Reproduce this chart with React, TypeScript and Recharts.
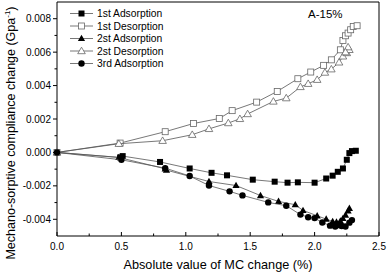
import { ReferenceLine, Scatter, ScatterChart, XAxis, YAxis } from "recharts";

const FONT = "'Liberation Sans', Arial, sans-serif";

const ads1X = [0, 0.49, 0.51, 0.8, 1.03, 1.2, 1.32, 1.52, 1.69, 1.79, 1.87, 2.0, 2.09, 2.14, 2.18, 2.22, 2.25, 2.27, 2.29, 2.32];
const ads1Y = [0, -0.0003, -0.00022, -0.00057, -0.00096, -0.00122, -0.00137, -0.00163, -0.00175, -0.00181, -0.00179, -0.00181, -0.00156, -0.00139, -0.00116, -0.00096, -0.00044, -0.00004, 0.00008, 0.0001];

const des1X = [0, 0.49, 0.84, 1.06, 1.26, 1.36, 1.55, 1.71, 1.87, 1.97, 2.07, 2.13, 2.2, 2.22, 2.24, 2.26, 2.28, 2.3, 2.33];
const des1Y = [0, 0.00056, 0.00124, 0.00173, 0.00203, 0.0025, 0.00301, 0.00365, 0.00441, 0.00481, 0.00521, 0.00554, 0.00614, 0.0067, 0.00698, 0.00714, 0.00734, 0.00754, 0.00758];

const ads2X = [0, 0.48, 0.84, 0.85, 1.18, 1.39, 1.58, 1.72, 1.85, 1.91, 2.02, 2.09, 2.14, 2.17, 2.2, 2.22, 2.24, 2.26, 2.27];
const ads2Y = [0, -0.0003, -0.00098, -0.00106, -0.00174, -0.00198, -0.00258, -0.00293, -0.00313, -0.00347, -0.00379, -0.00399, -0.00413, -0.00417, -0.0041, -0.00395, -0.00375, -0.0035, -0.00335];

const des2X = [0, 0.48, 0.82, 1.05, 1.18, 1.33, 1.42, 1.48, 1.68, 1.78, 1.89, 1.95, 2.02, 2.08, 2.13, 2.19, 2.22, 2.25, 2.27, 2.26, 2.24];
const des2Y = [0, 0.00052, 0.0007, 0.00106, 0.00141, 0.00176, 0.00201, 0.0023, 0.00305, 0.00325, 0.00392, 0.00411, 0.00435, 0.00478, 0.00498, 0.00539, 0.00575, 0.00595, 0.00614, 0.0063, 0.006];

const ads3X = [0, 0.5, 0.84, 1.03, 1.18, 1.34, 1.44, 1.64, 1.78, 1.89, 1.95, 2.0, 2.06, 2.12, 2.16, 2.19, 2.21, 2.24, 2.27, 2.29];
const ads3Y = [0, -0.00044, -0.00094, -0.00141, -0.00198, -0.00233, -0.00257, -0.00299, -0.00319, -0.00372, -0.00388, -0.00393, -0.00419, -0.00438, -0.00443, -0.00435, -0.0044, -0.00443, -0.0042, -0.00405];

const xTicks = [0, 0.25, 0.5, 0.75, 1, 1.25, 1.5, 1.75, 2, 2.25, 2.5];
const yTicks = [-0.004, -0.003, -0.002, -0.001, 0, 0.001, 0.002, 0.003, 0.004, 0.005, 0.006, 0.007, 0.008];

const seriesNames = ["1st Adsorption", "1st Desorption", "2st Adsorption", "2st Desorption", "3rd Adsorption"];

const toPoints = (xs: number[], ys: number[]) => xs.map((x, i) => ({ x, y: ys[i] }));

const LINE = "#555";
const OPEN = "#666";

function Marker({ kind, cx, cy }: { kind: string; cx: number; cy: number }) {
  if (kind === "sq") return <rect x={cx - 3} y={cy - 3} width={6} height={6} fill="#000" />;
  if (kind === "osq")
    return <rect x={cx - 3} y={cy - 3} width={6} height={6} fill="#fff" stroke={OPEN} strokeWidth={0.8} />;
  if (kind === "tri")
    return <polygon points={`${cx},${cy - 3.8} ${cx - 3.6},${cy + 2.6} ${cx + 3.6},${cy + 2.6}`} fill="#000" />;
  if (kind === "otri")
    return (
      <polygon
        points={`${cx},${cy - 3.8} ${cx - 3.8},${cy + 2.7} ${cx + 3.8},${cy + 2.7}`}
        fill="#fff"
        stroke={OPEN}
        strokeWidth={0.8}
      />
    );
  return <circle cx={cx} cy={cy} r={3.2} fill="#000" />;
}

const kinds = ["sq", "osq", "tri", "otri", "circ"];

const shapeFor = (kind: string) => (props: any) => <Marker kind={kind} cx={props.cx} cy={props.cy} />;

function XTick({ x, y, payload }: any) {
  const v = payload.value;
  const major = Math.abs(v * 2 - Math.round(v * 2)) < 1e-6;
  return (
    <g>
      <line x1={x} y1={y} x2={x} y2={y - (major ? 4 : 2.5)} stroke="#000" strokeWidth={1} />
      {major && (
        <text x={x} y={y + 7} dy="0.71em" textAnchor="middle" fontSize={10} fontFamily={FONT} fill="#000">
          {v.toFixed(1)}
        </text>
      )}
    </g>
  );
}

function YTick({ x, y, payload }: any) {
  const v = payload.value;
  const major = Math.round(v * 1000) % 2 === 0;
  return (
    <g>
      <line x1={x} y1={y} x2={x - (major ? 4 : 2.5)} y2={y} stroke="#000" strokeWidth={1} />
      {major && (
        <text x={x - 6} y={y} dy="0.35em" textAnchor="end" fontSize={10} fontFamily={FONT} fill="#000">
          {v.toFixed(3)}
        </text>
      )}
    </g>
  );
}

export default function App() {
  const series = [
    toPoints(ads1X, ads1Y),
    toPoints(des1X, des1Y),
    toPoints(ads2X, ads2Y),
    toPoints(des2X, des2Y),
    toPoints(ads3X, ads3Y),
  ];

  return (
    <div style={{ position: "absolute", left: 0, top: 0, width: 387, height: 275, background: "#fff", fontFamily: FONT }}>
      <ScatterChart width={387} height={275} margin={{ top: 2, right: 8, bottom: 0, left: 0 }}>
        <XAxis
          type="number"
          dataKey="x"
          domain={[0, 2.5]}
          ticks={xTicks}
          interval={0}
          height={39}
          tickSize={0}
          tickMargin={0}
          tickLine={false}
          tick={<XTick />}
          axisLine={{ stroke: "#000", strokeWidth: 1 }}
        />
        <YAxis
          type="number"
          dataKey="y"
          domain={[-0.005, 0.009]}
          ticks={yTicks}
          interval={0}
          width={57}
          tickSize={0}
          tickMargin={0}
          tickLine={false}
          tick={<YTick />}
          axisLine={{ stroke: "#000", strokeWidth: 1 }}
        />
        <ReferenceLine y={0.009} stroke="#000" strokeWidth={1} />
        <ReferenceLine x={2.5} stroke="#000" strokeWidth={1} />
        {series.map((data, i) => (
          <Scatter
            key={seriesNames[i]}
            name={seriesNames[i]}
            data={data}
            line={{ stroke: LINE, strokeWidth: 0.8 }}
            lineType="joint"
            shape={shapeFor(kinds[i])}
            isAnimationActive={false}
          />
        ))}
      </ScatterChart>

      <svg width={387} height={275} style={{ position: "absolute", left: 0, top: 0, pointerEvents: "none" }}>
        {seriesNames.map((name, i) => {
          const cy = 13.5 + i * 12.5;
          return (
            <g key={name}>
              <line x1={70} y1={cy} x2={93} y2={cy} stroke={LINE} strokeWidth={0.8} />
              <Marker kind={kinds[i]} cx={81.5} cy={cy} />
              <text x={97} y={cy} dy="0.35em" fontSize={10.3} fontFamily={FONT} fill="#000">
                {name}
              </text>
            </g>
          );
        })}
        <text x={308} y={14} dy="0.35em" fontSize={11.5} fontFamily={FONT} fill="#000">
          A-15%
        </text>
        <text x={218} y={265} dy="0.35em" textAnchor="middle" fontSize={12.7} fontFamily={FONT} fill="#000">
          Absolute value of MC change (%)
        </text>
        <text
          x={11}
          y={133}
          dy="0.35em"
          textAnchor="middle"
          transform="rotate(-90 11 133)"
          fontSize={12.5}
          fontFamily={FONT}
          fill="#000"
        >
          Mechano-sorptive compliance change (Gpa
          <tspan fontSize={8} dy="-5">-1</tspan>
          <tspan dy="5">)</tspan>
        </text>
      </svg>
    </div>
  );
}
